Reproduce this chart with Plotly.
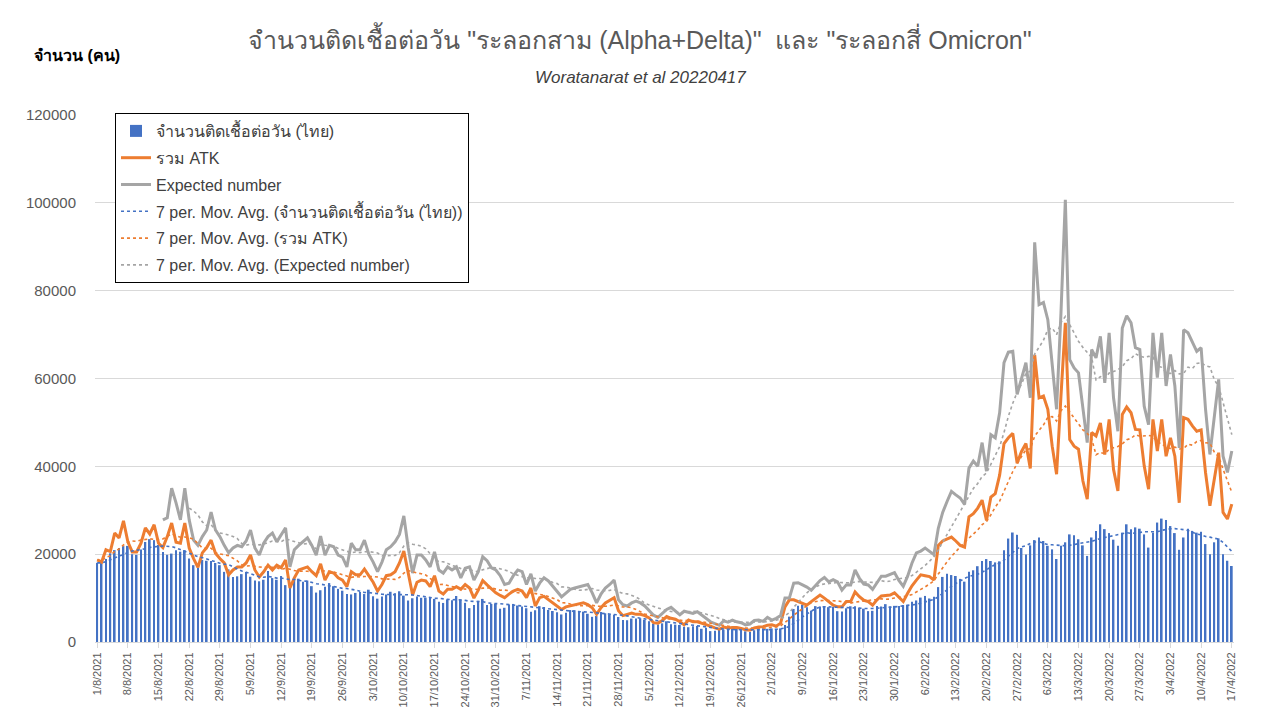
import pandas as pd
import plotly.graph_objects as go

# ---------------- data ----------------
start_date = "2021-08-01"
n_days = 260

daily_cases = [
    18027, 17970, 18901, 20200, 20920, 21379, 21838,
    21882, 19983, 19843, 21038, 22782, 23418, 23192,
    22086, 20515, 19851, 20128, 20902, 20571, 20919,
    19014, 17491, 16934, 18702, 18501, 18417, 17984,
    17492, 15972, 16536, 14802, 14956, 15452, 15942,
    14862, 13988, 13821, 14176, 16185, 14555, 14178,
    15022, 12952, 12405, 14403, 14418, 13746, 13987,
    12709, 11252, 11786, 12570, 13418, 12697, 12103,
    11681, 10919, 10828, 11173, 11375, 10919, 11912,
    10415, 9869, 10386, 10817, 11439, 11129, 11552,
    10556, 9445, 9958, 10384, 10064, 10111, 10033,
    9811, 9183, 8893, 9691, 9530, 10472, 9658,
    8918, 7706, 8452, 9377, 9810, 8452, 8668,
    8674, 7574, 7795, 8524, 8668, 8305, 8058,
    7690, 6904, 7232, 8153, 7967, 7295, 7057,
    6772, 6269, 6670, 7276, 7241, 6890, 6911,
    6428, 5736, 5915, 6853, 6542, 6320, 6209,
    5686, 5010, 4959, 5339, 5357, 5397, 5049,
    4734, 4171, 3975, 4251, 4713, 4020, 3963,
    3866, 3476, 3364, 3579, 3666, 3011, 3251,
    2476, 2575, 2778, 2834, 2864, 3046, 2979,
    3098, 2437, 2305, 2676, 3091, 3112, 3011,
    3091, 2927, 3091, 3899, 5775, 7526, 8263,
    8511, 7926, 7133, 8167, 8077, 8158, 7929,
    8007, 7016, 6929, 7681, 8129, 8112, 7804,
    7587, 7030, 7102, 8207, 8078, 8618, 8081,
    8232, 8172, 8405, 8470, 9171, 9460, 10115,
    10490, 9909, 10292, 12500, 14822, 15563, 15242,
    15030, 14373, 13742, 15982, 16330, 17257, 18454,
    18883, 18448, 18127, 18363, 20902, 23557, 24932,
    24400, 21400, 19900, 22000, 23200, 23800, 23000,
    21900, 21100, 18900, 21900, 22700, 24500, 24300,
    23400, 22000, 19600, 23800, 25300, 26800, 25700,
    24800, 23300, 21900, 24900, 26800, 25700, 26100,
    25800, 24500, 21500, 24900, 27200, 28100, 27800,
    26400, 24800, 21000, 23800, 25800, 25300, 24900,
    25100, 22300, 20000, 22700, 23600, 20000, 18500,
    17300,
]

atk_total = [
    18700, 18200, 21000, 20600, 24800, 23700, 27600,
    22800, 20500, 20500, 22500, 26000, 24600, 26700,
    22500, 21500, 24000, 27100, 22700, 22500, 27100,
    21400, 19000, 17000, 20300, 21500, 23200, 20200,
    19000, 18000, 15300, 16400, 17100, 17100, 18000,
    19800, 16400, 14800, 16000, 17500, 16400, 17500,
    16900, 18700, 12300, 14600, 16400, 16800, 17100,
    16000, 15100, 17800, 14100, 16000, 15700, 14600,
    14100, 12600, 16000, 15300, 15300, 16600, 15100,
    13600, 11600, 13100, 15100, 15300, 16000, 18000,
    20700, 15700, 10700, 13600, 14100, 13900, 12600,
    15100, 11600, 10900, 12000, 12000, 12600, 12000,
    13100, 12300, 10000, 11800, 14000, 13000, 12000,
    11200, 10600, 10100, 10900, 11600, 12000, 11600,
    10100, 12300, 8200, 10100, 10400, 9600, 8900,
    8000, 7400, 8000, 8200, 8500, 8700, 8900,
    8500, 7800, 6300, 7800, 8900, 9600, 10100,
    7100, 6000, 6300, 6600, 6300, 6300, 6000,
    5500, 4400, 4300, 4900, 5800, 5400, 5200,
    4600, 3900, 5000, 4600, 4600, 4300, 3900,
    3600, 3200, 2900, 3400, 3200, 3300, 3300,
    3100, 2800, 2700, 3200, 3400, 3500, 3800,
    3900, 3600, 4300, 8000, 9600, 9600, 9200,
    8800, 8400, 9200, 10000, 10700, 10000, 9200,
    8400, 8000, 8000, 9200, 9200, 11400, 10300,
    9500, 9200, 8400, 9600, 10500, 10600, 10700,
    11200, 10200, 9200, 11100, 12800, 14100, 15300,
    15100, 14900, 14100, 22000, 23000, 23500, 23900,
    23000, 22000, 21600, 28500, 29200, 30500, 32300,
    27700, 33000, 33800, 38000, 45200, 46500, 47500,
    40700, 43400, 45200, 39500, 65400, 55600, 56000,
    53000, 44600, 38200, 56000, 72700, 46100, 44600,
    43900, 36700, 32500, 47700, 46900, 49900, 42700,
    50700, 39300, 34400, 51800, 53500, 52200, 48400,
    48300, 40100, 34800, 50700, 43500, 50700, 42300,
    46500, 42300, 31700, 51100, 50700, 49200, 48000,
    48300, 38600, 31000, 37000, 43100, 29500, 28000,
    31400,
]

expected_number = [
    None, None, None, None, None, None, None,
    None, None, None, None, None, None, None,
    None, 27800, 28300, 35000, 31700, 27800, 35000,
    27800, 23200, 22000, 24000, 25500, 29600, 25500,
    24000, 22000, 20300, 21400, 22000, 21700, 23000,
    25500, 21400, 19800, 22500, 24000, 24800, 22800,
    24400, 26000, 17100, 21000, 22000, 22800, 23700,
    22000, 19800, 24100, 19800, 22000, 21700, 19800,
    19300, 17100, 22500, 21000, 21000, 23200, 20000,
    18200, 16000, 18200, 21000, 21700, 22800, 24500,
    28700, 21400, 15700, 19800, 19800, 18700, 17100,
    20500, 16400, 15700, 17100, 16400, 17100, 14600,
    16800, 17100, 14100, 16000, 19400, 18500, 16900,
    16400, 15100, 13100, 13400, 15100, 16400, 16000,
    13100, 15500, 11600, 13400, 14600, 13900, 12600,
    11500, 10300, 11200, 12000, 12300, 12600, 12800,
    13100, 11200, 8900, 10900, 12300, 13100, 14100,
    9600, 8500, 8200, 8900, 9300, 8900, 8200,
    7100, 6100, 5600, 6400, 7400, 7900, 7000,
    6200, 7000, 6800, 6500, 6900, 6100, 5400,
    4600, 4200, 3800, 4800, 4500, 5000, 4600,
    4400, 3900, 4100, 4900, 5000, 4700, 5600,
    5000, 5400, 6000, 10000, 10000, 13400, 13500,
    13000, 12500, 11800, 13000, 14000, 14700, 13700,
    14200, 13700, 11800, 13000, 13000, 16400, 14500,
    13200, 13000, 12000, 13500, 15000, 15000, 15400,
    15800, 14000, 12700, 15000, 18000, 20300, 20700,
    21400, 20700, 19900, 25900, 29500, 32000, 34300,
    33500, 32800, 31300, 39600, 41200, 40000, 45400,
    38900, 47200, 46500, 52200, 63600, 66000, 66200,
    56400, 60200, 63600, 55600, 91000, 76800, 77300,
    73400, 62800, 53000, 74900, 100700, 64300, 62400,
    61300, 53000, 45400, 66600, 64700, 69600, 59000,
    70400, 55600, 48000, 71500, 74300, 72700, 67000,
    66600, 53700, 49500, 70400, 60200, 70400, 58300,
    65500, 58300, 44200, 71100, 70400, 68100, 66200,
    67000, 53000, 42700, 50700, 59800, 42300, 38600,
    43500,
]

series_names = [
    "จำนวนติดเชื้อต่อวัน (ไทย)",
    "รวม ATK",
    "Expected number",
    "7 per. Mov. Avg. (จำนวนติดเชื้อต่อวัน (ไทย))",
    "7 per. Mov. Avg. (รวม ATK)",
    "7 per. Mov. Avg. (Expected number)",
]
title_text = 'จำนวนติดเชื้อต่อวัน "ระลอกสาม (Alpha+Delta)"  และ "ระลอกสี่ Omicron"'
subtitle_text = "Woratanarat et al 20220417"
y_title_text = "จำนวน (คน)"

# ---------------- build ----------------
dates = pd.date_range(start_date, periods=n_days, freq="D")
labels = [f"{d.day}/{d.month}/{d.year}" for d in dates]
tick_labels = labels[::7]

ma_cases = pd.Series(daily_cases, dtype=float).rolling(7, min_periods=1).mean()
ma_atk = pd.Series(atk_total, dtype=float).rolling(7, min_periods=1).mean()
ma_exp = pd.Series(expected_number, dtype=float).rolling(7).mean()

BLUE, ORANGE, GRAY = "#4472C4", "#ED7D31", "#A5A5A5"

fig = go.Figure()
fig.add_trace(go.Bar(x=labels, y=daily_cases, name=series_names[0],
                     marker=dict(color=BLUE, line=dict(width=0)), legendgroup="a"))
fig.add_trace(go.Scatter(x=labels, y=atk_total, name=series_names[1], mode="lines",
                         line=dict(color=ORANGE, width=3), legendgroup="b"))
fig.add_trace(go.Scatter(x=labels, y=expected_number, name=series_names[2], mode="lines",
                         line=dict(color=GRAY, width=3), legendgroup="c"))
fig.add_trace(go.Scatter(x=labels, y=ma_cases, name=series_names[3], mode="lines",
                         line=dict(color=BLUE, width=1.6, dash="dot"), legendgroup="d"))
fig.add_trace(go.Scatter(x=labels, y=ma_atk, name=series_names[4], mode="lines",
                         line=dict(color=ORANGE, width=1.6, dash="dot"), legendgroup="e"))
fig.add_trace(go.Scatter(x=labels, y=ma_exp, name=series_names[5], mode="lines",
                         line=dict(color=GRAY, width=1.6, dash="dot"), legendgroup="f"))

FONT = "Liberation Sans, Arial, sans-serif"
L, R, T, B = 95, 46, 115, 78
W, H = 1280, 720
pw, ph = W - L - R, H - T - B

def px_x(x):
    return (x - L) / pw

def px_y(y):
    return (H - B - y) / ph

fig.update_layout(
    width=W, height=H,
    margin=dict(l=L, r=R, t=T, b=B),
    paper_bgcolor="white", plot_bgcolor="white",
    font=dict(family=FONT, color="#595959"),
    bargap=0.6,
    showlegend=True,
    title=dict(text=title_text, x=0.5, xref="container", xanchor="center",
               y=1 - 40 / H, yref="container", yanchor="middle",
               font=dict(size=25, color="#595959", family=FONT)),
    legend=dict(x=px_x(115), y=px_y(113), xanchor="left", yanchor="top",
                bgcolor="white", bordercolor="black", borderwidth=1,
                font=dict(size=16, color="#404040", family=FONT),
                tracegroupgap=3, traceorder="grouped", itemwidth=30),
    annotations=[
        dict(text="<i>" + subtitle_text + "</i>", x=px_x(640), y=px_y(78),
             xref="paper", yref="paper", xanchor="center", yanchor="middle",
             showarrow=False, font=dict(size=17, color="#404040", family=FONT)),
        dict(text="<b>" + y_title_text + "</b>", x=px_x(32), y=px_y(55),
             xref="paper", yref="paper", xanchor="left", yanchor="middle",
             showarrow=False, font=dict(size=16, color="#000000", family=FONT)),
    ],
)

fig.update_xaxes(
    type="category", tickmode="array", tickvals=tick_labels, ticktext=tick_labels,
    tickangle=-90, tickfont=dict(size=11, color="#595959"),
    showgrid=False, showline=True, linecolor="#D9D9D9", linewidth=1,
    ticks="outside", ticklen=5, tickcolor="#D9D9D9",
    range=[-0.5, n_days - 0.5],
)
fig.update_yaxes(
    range=[0, 120000], dtick=20000, tickformat="d",
    tickfont=dict(size=15, color="#595959"),
    showgrid=True, gridcolor="#D9D9D9", gridwidth=1,
    zeroline=False, showline=False, ticks="", ticklabelstandoff=18,
)

fig.write_html("out.html")
